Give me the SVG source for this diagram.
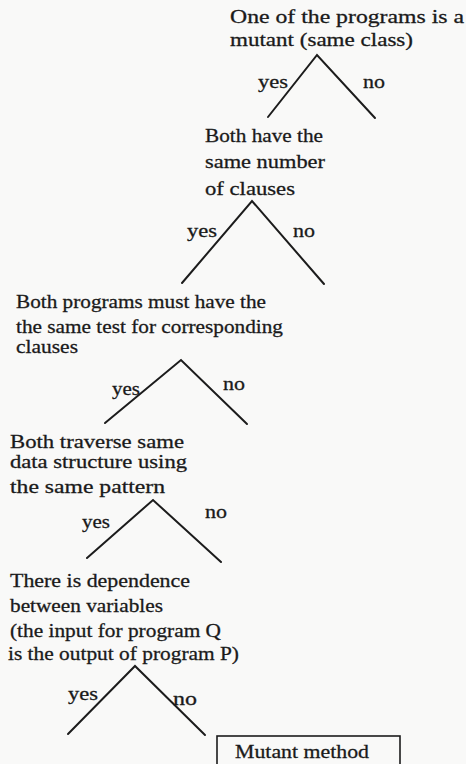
<svg xmlns="http://www.w3.org/2000/svg" width="466" height="764" viewBox="0 0 466 764">
<style>
.br{stroke:#1c1c1c;stroke-width:2;fill:none;stroke-linecap:round;stroke-linejoin:miter;}
.t{font-family:"Liberation Serif","Times New Roman",serif;font-size:19.5px;fill:#1a1a1a;stroke:#1a1a1a;stroke-width:0.3px;}
</style>
<rect width="466" height="764" fill="#f9f9f8"/>
<g class="t">
<g id="n1">
<text x="230" y="23" textLength="234" lengthAdjust="spacingAndGlyphs">One of the programs is a</text>
<text x="230" y="46" textLength="183" lengthAdjust="spacingAndGlyphs">mutant (same class)</text>
</g>
<g id="n2">
<text x="205" y="142" textLength="118" lengthAdjust="spacingAndGlyphs">Both have the</text>
<text x="205" y="168" textLength="120" lengthAdjust="spacingAndGlyphs">same number</text>
<text x="205" y="195" textLength="90" lengthAdjust="spacingAndGlyphs">of clauses</text>
</g>
<g id="n3">
<text x="16" y="308" textLength="250" lengthAdjust="spacingAndGlyphs">Both programs must have the</text>
<text x="16" y="333" textLength="267" lengthAdjust="spacingAndGlyphs">the same test for corresponding</text>
<text x="16" y="353" textLength="62" lengthAdjust="spacingAndGlyphs">clauses</text>
</g>
<g id="n4">
<text x="10" y="448" textLength="174" lengthAdjust="spacingAndGlyphs">Both traverse same</text>
<text x="10" y="468" textLength="177" lengthAdjust="spacingAndGlyphs">data structure using</text>
<text x="10" y="493" textLength="155" lengthAdjust="spacingAndGlyphs">the same pattern</text>
</g>
<g id="n5">
<text x="10" y="587" textLength="180" lengthAdjust="spacingAndGlyphs">There is dependence</text>
<text x="10" y="612" textLength="153" lengthAdjust="spacingAndGlyphs">between variables</text>
<text x="10" y="637" textLength="211" lengthAdjust="spacingAndGlyphs">(the input for program Q</text>
<text x="8" y="660" textLength="231" lengthAdjust="spacingAndGlyphs">is the output of program P)</text>
</g>
<g id="n6">
<rect x="217" y="736" width="183" height="30" fill="none" stroke="#1c1c1c" stroke-width="1.6"/>
<text x="235" y="758" textLength="134" lengthAdjust="spacingAndGlyphs">Mutant method</text>
</g>
<g id="connectors">
<polyline class="br" points="268,117 317,55 375,118"/>
<polyline class="br" points="182,283 252,201 324,284"/>
<polyline class="br" points="105,423 181,360 247,424"/>
<polyline class="br" points="87,558 153,500 221,562"/>
<polyline class="br" points="68,734 135,666 205,735"/>
<text x="258" y="88" textLength="30" lengthAdjust="spacingAndGlyphs">yes</text>
<text x="363" y="88" textLength="22" lengthAdjust="spacingAndGlyphs">no</text>
<text x="187" y="237" textLength="30" lengthAdjust="spacingAndGlyphs">yes</text>
<text x="293" y="237" textLength="22" lengthAdjust="spacingAndGlyphs">no</text>
<text x="112" y="395" textLength="28" lengthAdjust="spacingAndGlyphs">yes</text>
<text x="223" y="390" textLength="22" lengthAdjust="spacingAndGlyphs">no</text>
<text x="82" y="528" textLength="28" lengthAdjust="spacingAndGlyphs">yes</text>
<text x="205" y="518" textLength="22" lengthAdjust="spacingAndGlyphs">no</text>
<text x="68" y="700" textLength="30" lengthAdjust="spacingAndGlyphs">yes</text>
<text x="173" y="705" textLength="24" lengthAdjust="spacingAndGlyphs">no</text>
</g>
</g>
</svg>
